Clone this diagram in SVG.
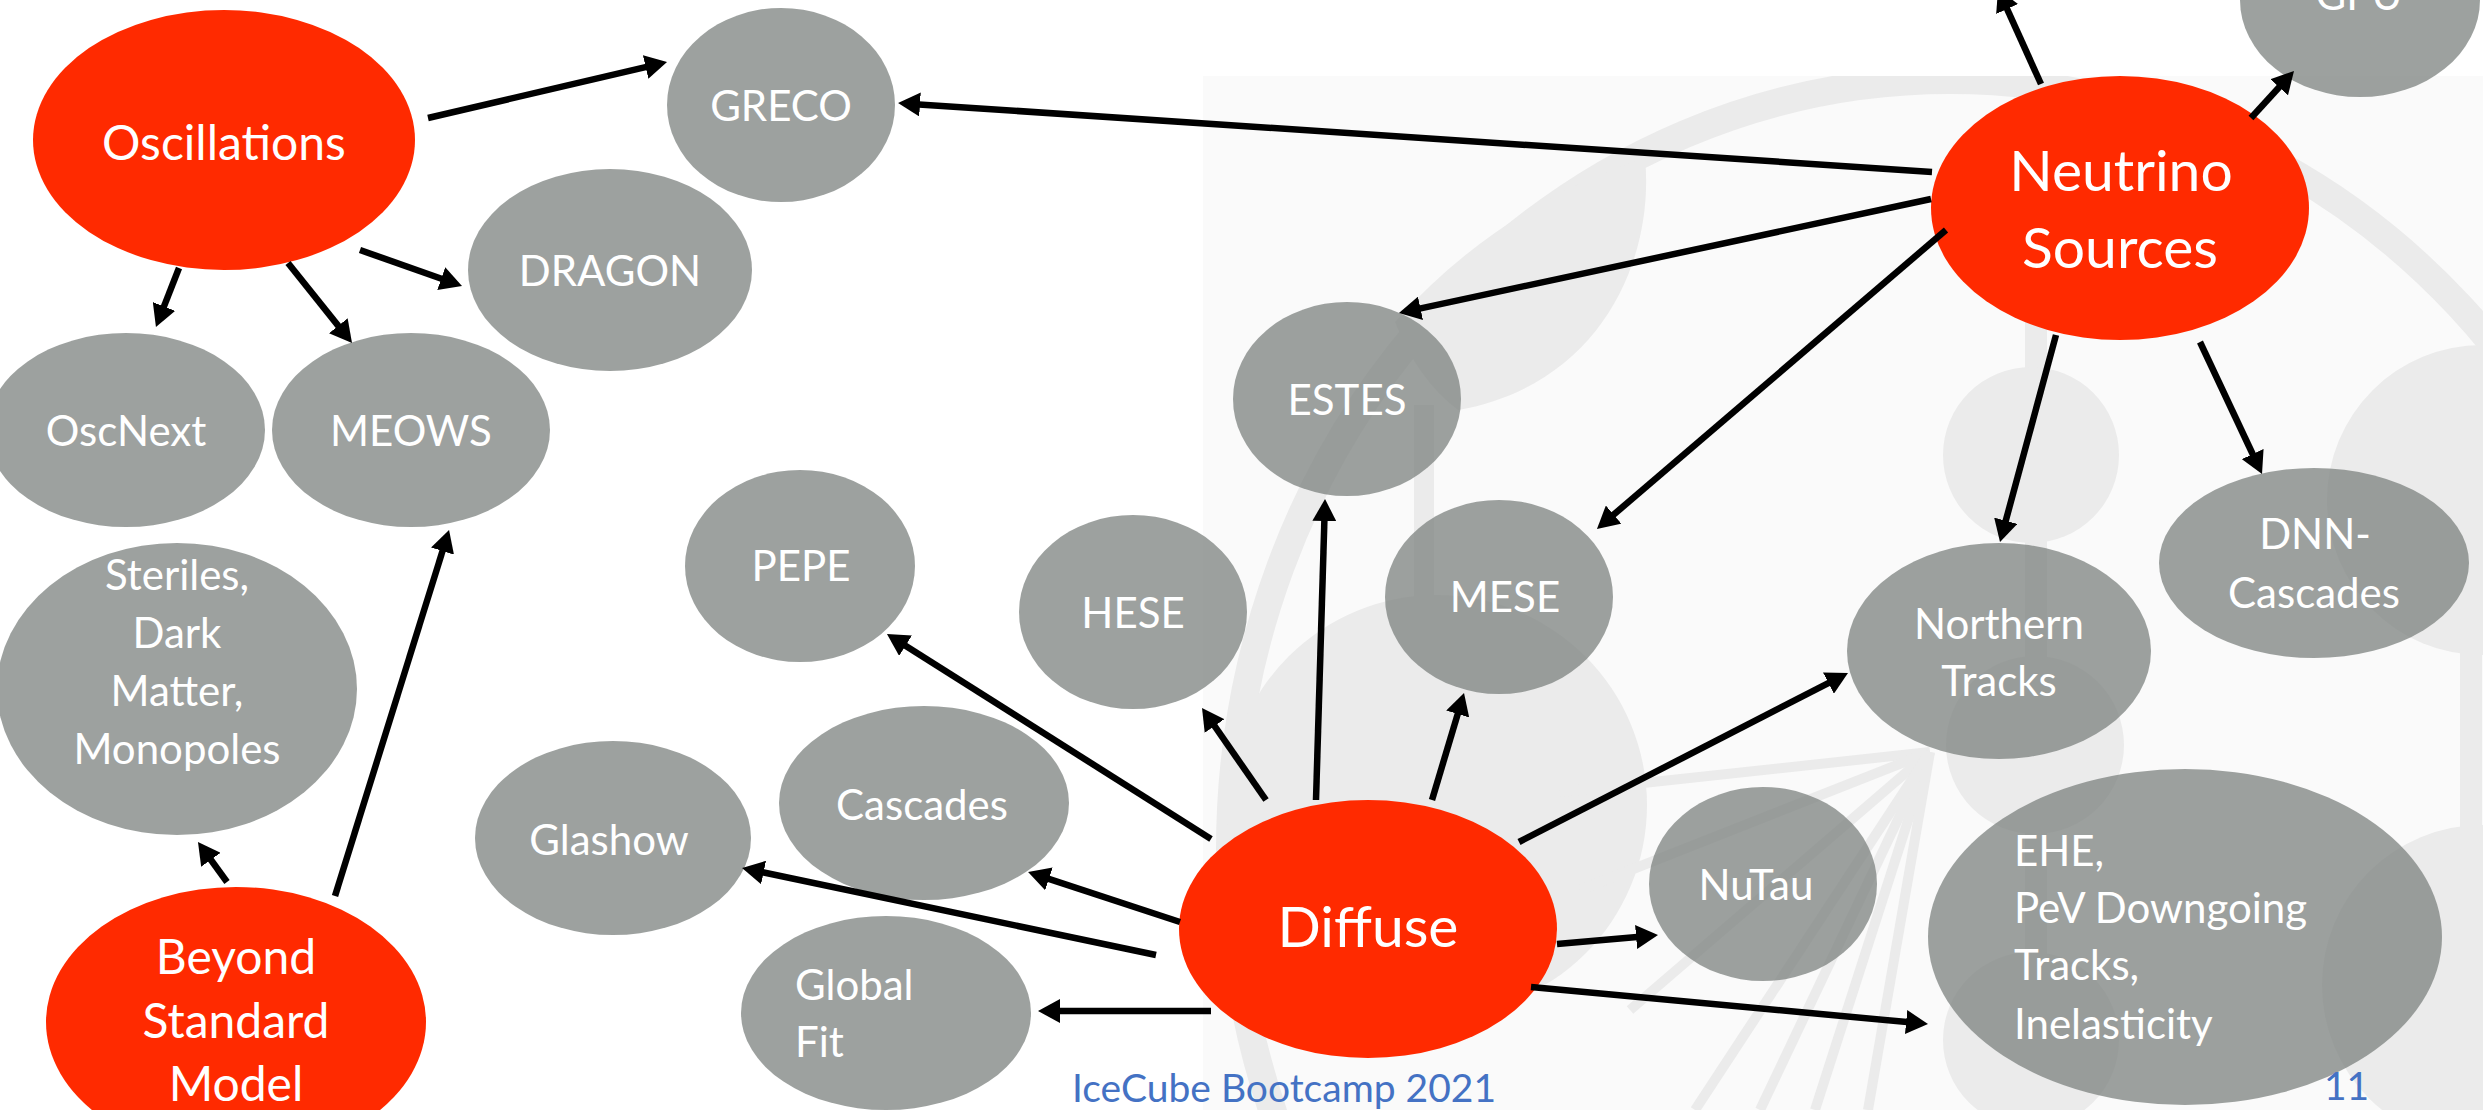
<svg xmlns="http://www.w3.org/2000/svg" width="2483" height="1110" viewBox="0 0 2483 1110">
  <style>
    .red { fill: #ff2a00; }
    .gray { fill: rgb(124,129,127); fill-opacity: 0.75; }
    .lbl { font-family: Lato, "Open Sans", "Liberation Sans", sans-serif; fill: #ffffff; }
    .g { font-size: 42px; }
    .rb { font-size: 57px; }
    .rm { font-size: 48px; }
    .mid { text-anchor: middle; }
    .edge { stroke: #000; stroke-width: 6.5; fill: none; marker-end: url(#head); }
    .wm { fill: #ebebeb; }
    .wml { stroke: #ebebeb; fill: none; }
    .foot { font-family: Lato, "Open Sans", "Liberation Sans", sans-serif; fill: #4472c4; font-size: 39px; }
  </style>
  <defs>
    <marker id="head" markerUnits="userSpaceOnUse" markerWidth="22" markerHeight="24" refX="1" refY="12" orient="auto">
      <path d="M0,0 L22,12 L0,24 Z" fill="#000"/>
    </marker>
    <clipPath id="wmclip">
      <rect x="1203" y="76" width="1280" height="1034"/>
    </clipPath>
  </defs>

  <rect width="2483" height="1110" fill="#ffffff"/>

  <!-- faint logo watermark behind the right half -->
  <g id="watermark" clip-path="url(#wmclip)">
    <rect x="1203" y="76" width="1280" height="1034" fill="#fafafa"/>
    <ellipse class="wml" cx="1950" cy="850" rx="720" ry="770" stroke-width="28"/>
    <path class="wm" d="M1395,322 Q1500,205 1645,158 C1655,260 1600,385 1458,410 Q1418,380 1395,322 Z"/>
    <rect class="wm" x="1414" y="405" width="20" height="220"/>
    <circle class="wm" cx="1437" cy="805" r="210"/>
    <rect class="wm" x="2025" y="320" width="22" height="790"/>
    <circle class="wm" cx="2031" cy="455" r="88"/>
    <circle class="wm" cx="2035" cy="745" r="89"/>
    <circle class="wm" cx="2031" cy="1040" r="88"/>
    <rect class="wm" x="2460" y="640" width="22" height="200"/>
    <circle class="wm" cx="2482" cy="500" r="155"/>
    <circle class="wm" cx="2482" cy="985" r="160"/>
    <g class="wml" stroke-width="10">
      <line x1="1930" y1="752" x2="1560" y2="792"/>
      <line x1="1930" y1="752" x2="1580" y2="890"/>
      <line x1="1930" y1="752" x2="1630" y2="1010"/>
      <line x1="1930" y1="752" x2="1695" y2="1110"/>
      <line x1="1930" y1="752" x2="1760" y2="1110"/>
      <line x1="1930" y1="752" x2="1815" y2="1110"/>
      <line x1="1930" y1="752" x2="1868" y2="1110"/>
    </g>
  </g>

  <!-- analysis nodes -->
  <g id="oscillations">
    <ellipse class="red" cx="224" cy="140" rx="191" ry="130"/>
    <text class="lbl rm mid" x="224" y="160">Oscillations</text>
  </g>
  <g id="greco">
    <ellipse class="gray" cx="781" cy="105" rx="114" ry="97"/>
    <text class="lbl g mid" x="781" y="121">GRECO</text>
  </g>
  <g id="dragon">
    <ellipse class="gray" cx="610" cy="270" rx="142" ry="101"/>
    <text class="lbl g mid" x="610" y="286">DRAGON</text>
  </g>
  <g id="oscnext">
    <ellipse class="gray" cx="126" cy="430" rx="139" ry="97"/>
    <text class="lbl g mid" x="126" y="446">OscNext</text>
  </g>
  <g id="meows">
    <ellipse class="gray" cx="411" cy="430" rx="139" ry="97"/>
    <text class="lbl g mid" x="411" y="446">MEOWS</text>
  </g>
  <g id="steriles">
    <ellipse class="gray" cx="177" cy="689" rx="180" ry="146"/>
    <text class="lbl g mid" x="177" y="590">Steriles,</text>
    <text class="lbl g mid" x="177" y="648">Dark</text>
    <text class="lbl g mid" x="177" y="706">Matter,</text>
    <text class="lbl g mid" x="177" y="764">Monopoles</text>
  </g>
  <g id="bsm">
    <ellipse class="red" cx="236" cy="1022" rx="190" ry="135"/>
    <text class="lbl rm mid" x="236" y="974">Beyond</text>
    <text class="lbl rm mid" x="236" y="1038">Standard</text>
    <text class="lbl rm mid" x="236" y="1101">Model</text>
  </g>
  <g id="pepe">
    <ellipse class="gray" cx="800" cy="566" rx="115" ry="96"/>
    <text class="lbl g mid" x="801" y="581">PEPE</text>
  </g>
  <g id="glashow">
    <ellipse class="gray" cx="613" cy="838" rx="138" ry="97"/>
    <text class="lbl g mid" x="609" y="855">Glashow</text>
  </g>
  <g id="cascades">
    <ellipse class="gray" cx="924" cy="803" rx="145" ry="97"/>
    <text class="lbl g mid" x="922" y="820">Cascades</text>
  </g>
  <g id="globalfit">
    <ellipse class="gray" cx="886" cy="1013" rx="145" ry="97"/>
    <text class="lbl g" x="795" y="1000">Global</text>
    <text class="lbl g" x="795" y="1057">Fit</text>
  </g>
  <g id="hese">
    <ellipse class="gray" cx="1133" cy="612" rx="114" ry="97"/>
    <text class="lbl g mid" x="1133" y="628">HESE</text>
  </g>
  <g id="estes">
    <ellipse class="gray" cx="1347" cy="399" rx="114" ry="97"/>
    <text class="lbl g mid" x="1347" y="415">ESTES</text>
  </g>
  <g id="mese">
    <ellipse class="gray" cx="1499" cy="597" rx="114" ry="97"/>
    <text class="lbl g mid" x="1505" y="612">MESE</text>
  </g>
  <g id="diffuse">
    <ellipse class="red" cx="1368" cy="929" rx="189" ry="129"/>
    <text class="lbl rb mid" x="1368" y="947">Diffuse</text>
  </g>
  <g id="nutau">
    <ellipse class="gray" cx="1763" cy="884" rx="114" ry="97"/>
    <text class="lbl g mid" x="1756" y="900">NuTau</text>
  </g>
  <g id="northern-tracks">
    <ellipse class="gray" cx="1999" cy="651" rx="152" ry="108"/>
    <text class="lbl g mid" x="1999" y="639">Northern</text>
    <text class="lbl g mid" x="1999" y="696">Tracks</text>
  </g>
  <g id="ehe">
    <ellipse class="gray" cx="2185" cy="937" rx="257" ry="168"/>
    <text class="lbl g" x="2014" y="866">EHE,</text>
    <text class="lbl g" x="2014" y="923">PeV Downgoing</text>
    <text class="lbl g" x="2014" y="980">Tracks,</text>
    <text class="lbl g" x="2014" y="1039">Inelasticity</text>
  </g>
  <g id="dnn-cascades">
    <ellipse class="gray" cx="2314" cy="563" rx="155" ry="95"/>
    <text class="lbl g mid" x="2315" y="549">DNN-</text>
    <text class="lbl g mid" x="2314" y="608">Cascades</text>
  </g>
  <g id="neutrino-sources">
    <ellipse class="red" cx="2120" cy="208" rx="189" ry="132"/>
    <text class="lbl rb mid" x="2121" y="191">Neutrino</text>
    <text class="lbl rb mid" x="2120" y="268">Sources</text>
  </g>
  <g id="gpu">
    <ellipse class="gray" cx="2360" cy="0" rx="120" ry="97"/>
    <text class="lbl g mid" x="2359" y="10">GPU</text>
  </g>

  <!-- connectors: line ends stop short of the tip, the marker fills the rest -->
  <g id="connectors">
    <line class="edge" x1="428" y1="118" x2="646.6" y2="66.8"/>
    <line class="edge" x1="360" y1="250" x2="442.2" y2="279.0"/>
    <line class="edge" x1="179" y1="268" x2="163.6" y2="307.4"/>
    <line class="edge" x1="288" y1="263" x2="338.9" y2="326.6"/>
    <line class="edge" x1="335" y1="896" x2="442.8" y2="550.1"/>
    <line class="edge" x1="227" y1="882" x2="210.3" y2="859.0"/>
    <line class="edge" x1="1932" y1="172" x2="919.0" y2="104.4"/>
    <line class="edge" x1="1931" y1="199" x2="1419.5" y2="308.6"/>
    <line class="edge" x1="1946" y1="230" x2="1612.9" y2="515.3"/>
    <line class="edge" x1="2056" y1="335" x2="2005.5" y2="521.7"/>
    <line class="edge" x1="2200" y1="342" x2="2253.1" y2="455.0"/>
    <line class="edge" x1="2251" y1="118" x2="2279.8" y2="86.5"/>
    <line class="edge" x1="2041" y1="84" x2="2006.7" y2="8.1"/>
    <line class="edge" x1="1316" y1="800" x2="1324.4" y2="520.0"/>
    <line class="edge" x1="1432" y1="800" x2="1458.0" y2="713.1"/>
    <line class="edge" x1="1266" y1="800" x2="1214.0" y2="725.2"/>
    <line class="edge" x1="1519" y1="842" x2="1829.3" y2="682.6"/>
    <line class="edge" x1="1557" y1="944" x2="1637.1" y2="936.9"/>
    <line class="edge" x1="1531" y1="987" x2="1907.1" y2="1022.1"/>
    <line class="edge" x1="1211" y1="839" x2="904.7" y2="645.2"/>
    <line class="edge" x1="1180" y1="922" x2="1048.0" y2="878.6"/>
    <line class="edge" x1="1156" y1="955" x2="762.6" y2="872.3"/>
    <line class="edge" x1="1211" y1="1011" x2="1059" y2="1011"/>
  </g>

  <!-- slide footer -->
  <text class="foot" x="1072" y="1102">IceCube Bootcamp 2021</text>
  <text class="foot" x="2324" y="1100">11</text>
</svg>
